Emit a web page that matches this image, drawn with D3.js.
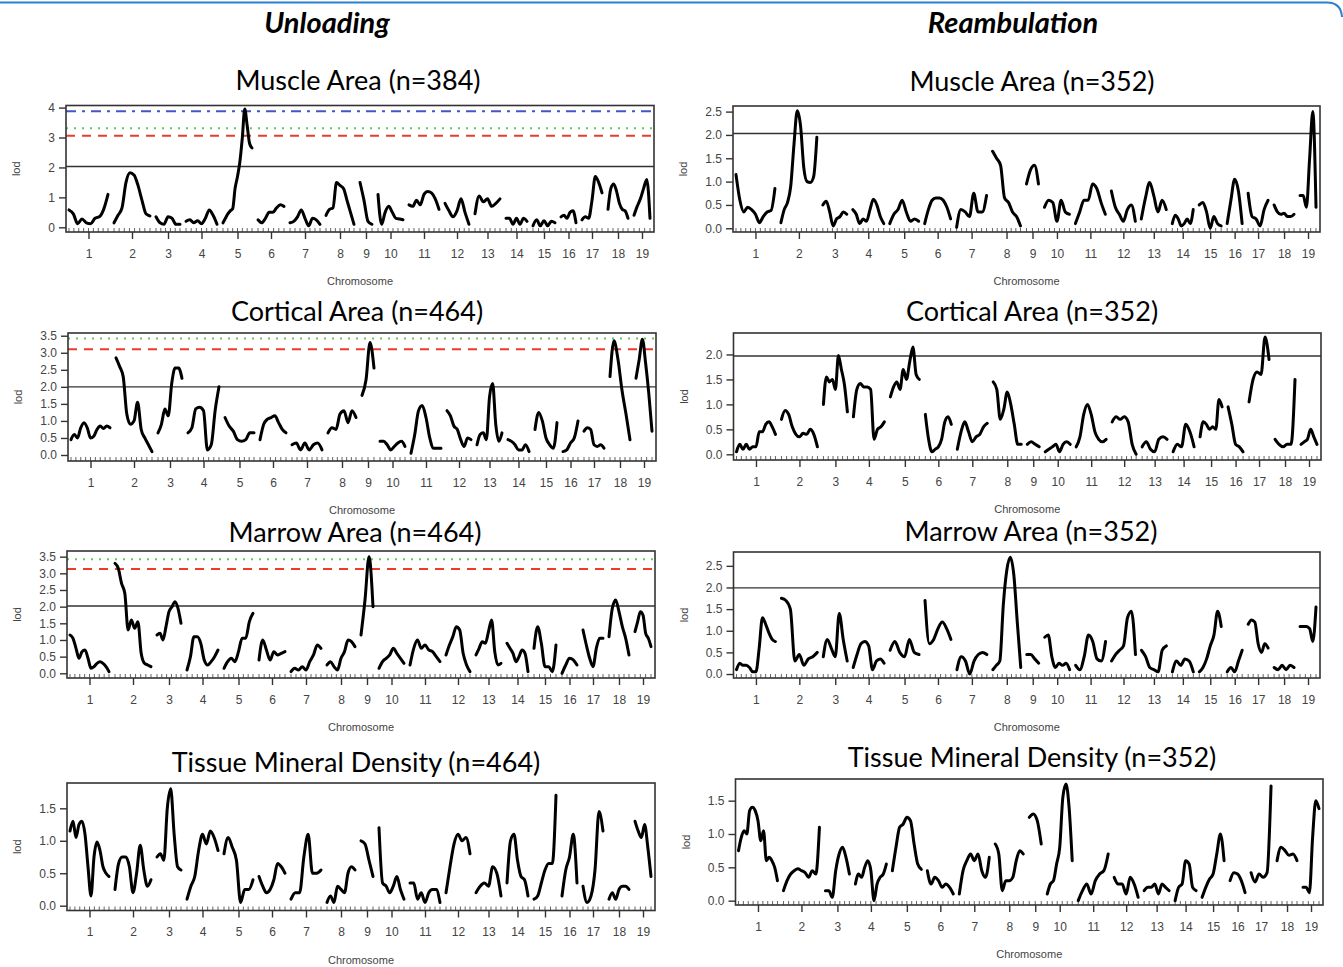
<!DOCTYPE html>
<html>
<head>
<meta charset="utf-8">
<script src="https://cdn.jsdelivr.net/npm/d3@7"></script>
<style>
  body { margin: 0; background: #fff; }
  svg { display: block; }
</style>
</head>
<body>
<script>
// chromosome map: lengths in map units, equal gap between chromosomes
var chromosomes = ["1","2","3","4","5","6","7","8","9","10","11","12","13","14","15","16","17","18","19"];
var chrLen = [39,36,24,31,29,26,30,28,12,25,30,24,25,21,22,15,20,20,16];
var chrGap = 6, mapPad = 3, mapTotal = 588;

// LOD profiles, one list per chromosome (evenly spaced along it)
var unloadMuscleLod = [
  [0.58,0.45,0.12,0.28,0.15,0.12,0.3,0.35,0.6,1.1],
  [0.15,0.4,0.65,1.5,1.82,1.75,1.4,0.9,0.45,0.38],
  [0.35,0.15,0.1,0.35,0.3,0.1,0.1],
  [0.2,0.25,0.15,0.22,0.12,0.3,0.58,0.4,0.1],
  [0.15,0.3,0.45,0.55,0.62,1.3,1.7,2.2,3.0,3.95,3.4,2.8,2.65],
  [0.25,0.15,0.3,0.5,0.5,0.65,0.75,0.7],
  [0.15,0.2,0.35,0.58,0.3,0.05,0.3,0.25,0.1],
  [0.4,0.6,0.65,1.5,1.4,1.3,0.9,0.5,0.1],
  [1.5,0.9,0.2,0.1],
  [1.1,0.1,0.5,0.7,0.5,0.3,0.28,0.25],
  [0.75,0.7,0.9,0.75,1.1,1.2,1.15,0.95,0.6],
  [0.8,0.55,0.35,0.55,0.95,0.5,0.1],
  [0.45,1.05,0.85,0.95,0.7,0.8,0.95],
  [0.3,0.3,0.1,0.3,0.1,0.3,0.2],
  [0.05,0.25,0.05,0.22,0.05,0.2,0.15],
  [0.35,0.4,0.3,0.5,0.55,0.15],
  [0.25,0.35,0.3,0.9,1.7,1.5,1.15],
  [0.6,1.3,1.45,1.2,0.8,0.6,0.55,0.3],
  [0.4,0.7,0.95,1.3,1.6,0.3]
];
var reambMuscleLod = [
  [1.15,0.6,0.35,0.45,0.4,0.3,0.12,0.25,0.35,0.38,0.85],
  [0.12,0.4,0.55,0.9,1.8,2.52,2.2,1.3,1.0,0.98,1.1,1.95],
  [0.5,0.58,0.35,0.05,0.2,0.25,0.35,0.3],
  [0.4,0.3,0.1,0.2,0.15,0.4,0.62,0.5,0.25,0.1],
  [0.1,0.3,0.4,0.6,0.35,0.15,0.2,0.15],
  [0.1,0.4,0.6,0.65,0.65,0.6,0.45,0.2],
  [0.02,0.4,0.35,0.25,0.75,0.35,0.35,0.7],
  [1.65,1.5,1.35,0.65,0.55,0.35,0.25,0.05],
  [0.95,1.25,1.35,0.95],
  [0.45,0.6,0.55,0.15,0.6,0.35,0.3],
  [0.1,0.35,0.6,0.6,0.95,0.85,0.55,0.3],
  [0.8,0.45,0.3,0.15,0.4,0.5,0.15],
  [0.2,0.65,0.98,0.7,0.35,0.6,0.4],
  [0.1,0.28,0.2,0.05,0.1,0.2,0.1,0.4],
  [0.5,0.55,0.35,0.0,0.25,0.1,0.05],
  [0.1,0.6,1.05,0.8,0.1],
  [0.75,0.25,0.2,0.05,0.4,0.6],
  [0.5,0.35,0.3,0.32,0.25,0.25,0.3],
  [0.7,0.7,0.45,1.5,2.5,0.45]
];
var unloadCorticalLod = [
  [0.45,0.6,0.5,0.8,0.95,0.8,0.5,0.55,0.75,0.85,0.78,0.85,0.8],
  [2.85,2.6,2.3,1.2,0.9,1.0,1.55,0.75,0.5,0.3,0.1],
  [0.65,0.9,1.35,1.15,2.1,2.55,2.55,2.25],
  [0.65,0.8,1.35,1.4,1.3,0.15,0.3,1.3,2.0],
  [1.1,0.85,0.7,0.45,0.4,0.45,0.65,0.65],
  [0.45,0.9,1.05,1.1,1.15,0.95,0.75,0.65],
  [0.3,0.35,0.15,0.35,0.15,0.3,0.35,0.15],
  [0.65,0.8,0.75,1.2,1.3,0.95,1.3,1.1],
  [1.75,2.2,3.3,2.55],
  [0.4,0.4,0.3,0.15,0.25,0.35,0.4,0.25],
  [0.05,0.6,1.3,1.45,1.1,0.5,0.2,0.2,0.2],
  [1.3,1.15,0.85,0.75,0.45,0.25,0.5,0.45],
  [0.3,0.6,0.65,0.45,1.7,2.1,0.9,0.4,0.65],
  [0.45,0.4,0.3,0.15,0.15,0.3,0.1],
  [0.75,1.25,1.0,0.5,0.3,0.2,0.95],
  [0.1,0.15,0.35,0.5,1.0],
  [0.7,0.8,0.75,0.3,0.25,0.3,0.2],
  [2.3,3.35,2.8,1.9,1.2,0.45],
  [2.25,2.8,3.4,2.7,1.8,0.7]
];
var reambCorticalLod = [
  [0.05,0.2,0.1,0.2,0.1,0.15,0.15,0.45,0.45,0.6,0.65,0.55,0.4],
  [0.7,0.88,0.8,0.55,0.4,0.35,0.42,0.4,0.5,0.4,0.15],
  [1.0,1.55,1.45,1.5,1.3,1.98,1.7,1.4,0.85],
  [0.75,1.3,1.42,1.35,1.35,1.3,0.3,0.5,0.55,0.65],
  [1.15,1.35,1.45,1.3,1.7,1.5,1.85,2.15,1.6,1.5],
  [0.8,0.3,0.05,0.1,0.15,0.3,0.65,0.75,0.6],
  [0.1,0.45,0.65,0.45,0.25,0.35,0.4,0.55,0.62],
  [1.45,1.3,0.7,0.9,1.25,1.0,0.6,0.2,0.2],
  [0.2,0.25,0.2,0.15],
  [0.05,0.1,0.15,0.2,0.05,0.2,0.25,0.2],
  [0.15,0.35,0.8,1.0,0.8,0.45,0.3,0.25,0.3],
  [0.65,0.75,0.7,0.75,0.65,0.2,0.0],
  [0.15,0.25,0.1,0.05,0.3,0.35,0.3],
  [0.05,0.2,0.15,0.6,0.45,0.15],
  [0.35,0.65,0.6,0.5,0.55,0.5,1.1,0.95],
  [0.95,0.6,0.2,0.15,0.05],
  [1.05,1.5,1.65,1.6,2.35,1.9],
  [0.3,0.2,0.15,0.2,0.2,1.5],
  [0.2,0.25,0.3,0.5,0.35,0.2]
];
var unloadMarrowLod = [
  [1.15,1.05,0.75,0.45,0.65,0.7,0.45,0.15,0.2,0.3,0.35,0.3,0.2,0.05],
  [3.3,3.15,2.7,2.4,1.3,1.6,1.35,1.55,0.6,0.3,0.25,0.2],
  [1.15,1.2,1.0,1.4,1.85,2.0,2.15,1.95,1.5],
  [0.1,0.5,1.1,1.1,0.9,0.4,0.25,0.35,0.5,0.7],
  [0.15,0.35,0.45,0.35,0.65,1.05,1.05,1.55,1.8],
  [0.4,1.0,0.7,0.4,0.65,0.55,0.6,0.65],
  [0.05,0.15,0.1,0.2,0.1,0.35,0.55,0.85,0.75],
  [0.25,0.35,0.2,0.1,0.45,0.65,1.0,0.95,0.8],
  [1.15,2.2,3.5,2.0],
  [0.15,0.35,0.45,0.55,0.75,0.6,0.45,0.3],
  [0.25,0.75,1.0,0.75,0.85,0.7,0.65,0.5,0.35],
  [0.55,0.85,1.1,1.4,1.3,0.6,0.25,0.05],
  [0.55,0.75,0.95,0.9,1.25,1.6,0.65,0.25,0.3],
  [0.9,0.75,0.6,0.35,0.5,0.7,0.6,0.05],
  [0.75,1.4,0.9,0.2,0.2,0.05,0.85],
  [0.0,0.25,0.45,0.4,0.25],
  [1.3,0.85,0.45,0.2,0.75,1.05,1.05],
  [1.1,1.95,2.2,1.85,1.4,1.05,0.55],
  [1.25,1.55,1.85,1.75,1.2,1.05,0.8]
];
var reambMarrowLod = [
  [0.1,0.25,0.2,0.2,0.15,0.05,0.05,0.6,1.3,1.15,0.95,0.8,0.75],
  [1.75,1.7,1.5,0.3,0.45,0.2,0.35,0.4,0.5],
  [0.4,0.8,0.6,0.4,1.4,0.8,0.3],
  [0.15,0.45,0.7,0.75,0.65,0.1,0.3,0.35,0.25],
  [0.55,0.75,0.5,0.4,0.8,0.5,0.45],
  [1.7,0.7,0.8,1.05,1.2,1.05,0.8],
  [0.1,0.4,0.3,0.0,0.3,0.45,0.5,0.45],
  [0.1,0.2,0.3,1.6,2.4,2.7,2.3,1.2,0.15],
  [0.45,0.45,0.35,0.25],
  [0.85,0.9,0.4,0.15,0.25,0.2,0.25,0.1],
  [0.2,0.1,0.4,0.9,0.75,0.35,0.3,0.75],
  [0.3,0.45,0.55,0.65,1.3,1.45,0.45],
  [0.55,0.4,0.15,0.1,0.05,0.55,0.65],
  [0.05,0.3,0.2,0.35,0.3,0.05],
  [0.05,0.15,0.35,0.65,0.9,1.45,1.1],
  [0.05,0.15,0.05,0.3,0.55],
  [1.15,1.25,1.2,0.7,0.5,0.7,0.6],
  [0.15,0.1,0.2,0.1,0.2,0.15],
  [1.1,1.1,1.1,1.05,0.75,1.55]
];
var unloadTmdLod = [
  [1.15,1.3,1.05,1.25,1.3,1.1,0.6,0.15,0.75,0.98,0.85,0.6,0.5,0.45],
  [0.25,0.65,0.75,0.75,0.6,0.2,0.5,0.93,0.55,0.3,0.4],
  [0.75,0.8,0.7,1.5,1.8,1.1,0.6,0.55],
  [0.1,0.3,0.45,0.85,1.1,0.95,1.15,1.05,0.85],
  [0.8,1.05,0.9,0.7,0.05,0.25,0.25,0.4],
  [0.45,0.3,0.2,0.25,0.4,0.65,0.6,0.5],
  [0.1,0.2,0.2,0.75,1.1,0.5,0.5,0.55],
  [0.05,0.15,0.05,0.3,0.25,0.2,0.5,0.6,0.55],
  [1.0,0.95,0.7,0.45],
  [1.2,0.35,0.3,0.2,0.3,0.45,0.25,0.1],
  [0.35,0.35,0.1,0.2,0.05,0.2,0.25,0.25,0.05],
  [0.2,0.6,0.95,1.1,1.0,1.05,0.8],
  [0.2,0.3,0.35,0.3,0.6,0.5,0.15],
  [0.35,1.0,1.1,0.7,0.45,0.4,0.15],
  [0.1,0.15,0.35,0.55,0.65,0.65,1.7],
  [0.15,0.55,0.75,1.1,0.35],
  [0.3,0.05,0.15,0.55,1.45,1.15],
  [0.1,0.2,0.1,0.25,0.3,0.3,0.25],
  [1.3,1.15,1.05,1.25,0.9,0.45]
];
var reambTmdLod = [
  [0.75,0.95,1.05,1.0,1.35,1.4,1.35,1.2,0.9,1.05,0.6,0.65,0.6,0.5,0.3],
  [0.15,0.3,0.4,0.45,0.48,0.45,0.42,0.35,0.45,0.4,1.1],
  [0.15,0.15,0.05,0.45,0.7,0.8,0.65,0.4],
  [0.25,0.4,0.35,0.5,0.6,0.45,0.0,0.25,0.35,0.4,0.55],
  [0.45,0.8,1.1,1.15,1.25,1.2,0.85,0.55,0.47],
  [0.45,0.25,0.35,0.3,0.2,0.25,0.2,0.1],
  [0.1,0.45,0.6,0.7,0.6,0.7,0.45,0.35,0.65],
  [0.85,0.7,0.15,0.3,0.3,0.35,0.6,0.75,0.7],
  [1.25,1.3,1.2,0.85],
  [0.1,0.25,0.3,0.55,0.8,1.55,1.75,1.4,0.6],
  [0.0,0.15,0.25,0.1,0.3,0.4,0.45,0.7],
  [0.35,0.25,0.25,0.1,0.35,0.25,0.05],
  [0.15,0.2,0.2,0.25,0.1,0.25,0.2,0.15],
  [0.0,0.2,0.25,0.6,0.55,0.2,0.15],
  [0.05,0.2,0.32,0.4,0.7,1.0,0.6],
  [0.3,0.42,0.4,0.3,0.12],
  [0.42,0.28,0.4,0.35,0.42,1.72],
  [0.6,0.8,0.75,0.68,0.7,0.6],
  [0.2,0.2,0.12,0.95,1.5,1.38]
];

// significance thresholds, in drawing order (solid, dashed, dotted, dash-dot)
var unloadMuscleThr = [2.03, 3.06, 3.31, 3.88];
var reambMuscleThr = [2.03];
var unloadCorticalThr = [2.0, 3.1, 3.42];
var reambCorticalThr = [1.97];
var unloadMarrowThr = [2.02, 3.13, 3.42];
var reambMarrowThr = [1.99];

var unloadMuscleTicks = [0, 1, 2, 3, 4];
var reambMuscleTicks = [0, 0.5, 1, 1.5, 2, 2.5];
var unloadCorticalTicks = [0, 0.5, 1, 1.5, 2, 2.5, 3, 3.5];
var reambCorticalTicks = [0, 0.5, 1, 1.5, 2];
var unloadMarrowTicks = [0, 0.5, 1, 1.5, 2, 2.5, 3, 3.5];
var reambMarrowTicks = [0, 0.5, 1, 1.5, 2, 2.5];
var tmdTicks = [0, 0.5, 1, 1.5];

var width = 1343, height = 967;

var svg = d3.select("body").append("svg")
    .attr("width", width)
    .attr("height", height);

// rounded frame edge at the top
svg.append("path")
   .attr("d", "M0,2.5 L1327,2.5 Q1341,2.5 1342,17")
   .attr("fill", "none")
   .attr("stroke", "#2b7fcf")
   .attr("stroke-width", 2);

// column headers
svg.append("text")
   .attr("x", 327).attr("y", 33)
   .attr("text-anchor", "middle")
   .style("font-family", "Lato, sans-serif")
   .style("font-weight", "bold").style("font-style", "italic")
   .style("font-size", "29px")
   .text("Unloading");
svg.append("text")
   .attr("x", 1013).attr("y", 33)
   .attr("text-anchor", "middle")
   .style("font-family", "Lato, sans-serif")
   .style("font-weight", "bold").style("font-style", "italic")
   .style("font-size", "29px")
   .text("Reambulation");

// chromosome extents along the map
var chrStart = [], chrMid = [];
var pos = mapPad;
chrLen.forEach(function(l) {
    chrStart.push(pos);
    chrMid.push(pos + l / 2);
    pos += l + chrGap;
});

var panels = [
  {title: "Muscle Area (n=384)", lod: unloadMuscleLod, thr: unloadMuscleThr, ticks: unloadMuscleTicks, fmt: "d",
   left: 66, right: 654, top: 105.5, bottom: 232, yDomain: [-0.157, 4.07], titleX: 358, titleY: 90},
  {title: "Muscle Area (n=352)", lod: reambMuscleLod, thr: reambMuscleThr, ticks: reambMuscleTicks, fmt: ".1f",
   left: 733, right: 1320, top: 106, bottom: 232, yDomain: [-0.08, 2.62], titleX: 1032, titleY: 91},
  {title: "Cortical Area (n=464)", lod: unloadCorticalLod, thr: unloadCorticalThr, ticks: unloadCorticalTicks, fmt: ".1f",
   left: 68, right: 656, top: 333, bottom: 461, yDomain: [-0.176, 3.58], titleX: 357, titleY: 321},
  {title: "Cortical Area (n=352)", lod: reambCorticalLod, thr: reambCorticalThr, ticks: reambCorticalTicks, fmt: ".1f",
   left: 733.5, right: 1321, top: 333, bottom: 460, yDomain: [-0.114, 2.43], titleX: 1032, titleY: 321},
  {title: "Marrow Area (n=464)", lod: unloadMarrowLod, thr: unloadMarrowThr, ticks: unloadMarrowTicks, fmt: ".1f",
   left: 67, right: 655, top: 551, bottom: 678, yDomain: [-0.141, 3.67], titleX: 355, titleY: 542},
  {title: "Marrow Area (n=352)", lod: reambMarrowLod, thr: reambMarrowThr, ticks: reambMarrowTicks, fmt: ".1f",
   left: 733.5, right: 1320, top: 552, bottom: 678, yDomain: [-0.092, 2.82], titleX: 1031, titleY: 541},
  {title: "Tissue Mineral Density (n=464)", lod: unloadTmdLod, thr: [], ticks: tmdTicks, fmt: ".1f",
   left: 67, right: 655, top: 783, bottom: 910.5, yDomain: [-0.074, 1.89], titleX: 356, titleY: 772},
  {title: "Tissue Mineral Density (n=352)", lod: reambTmdLod, thr: [], ticks: tmdTicks, fmt: ".1f",
   left: 735.5, right: 1323, top: 779, bottom: 905, yDomain: [-0.065, 1.825], titleX: 1032, titleY: 767}
];

var thrStyle = [
  {stroke: "#333", width: 1.4, dash: null},
  {stroke: "#ec3b2c", width: 2, dash: "9,7"},
  {stroke: "#66c65a", width: 2, dash: "2,6"},
  {stroke: "#4655c6", width: 2, dash: "10,6,3,6"}
];

panels.forEach(function(p) {
    var g = svg.append("g");

    var x = d3.scaleLinear().domain([0, mapTotal]).range([p.left, p.right]);
    var y = d3.scaleLinear().domain(p.yDomain).range([p.bottom, p.top]);

    g.append("text")
     .attr("x", p.titleX).attr("y", p.titleY)
     .attr("text-anchor", "middle")
     .style("font-family", "Lato, sans-serif")
     .style("font-size", "27px")
     .style("fill", "#000")
     .text(p.title);

    p.thr.forEach(function(v, i) {
        var s = thrStyle[i];
        g.append("line")
         .attr("x1", p.left).attr("x2", p.right)
         .attr("y1", y(v)).attr("y2", y(v))
         .attr("stroke", s.stroke)
         .attr("stroke-width", s.width)
         .attr("stroke-dasharray", s.dash);
    });

    // marker rug along the bottom
    chrLen.forEach(function(l, c) {
        var n = Math.round(l / 5) + 1;
        d3.range(n).forEach(function(k) {
            var xm = x(chrStart[c] + k * l / (n - 1));
            g.append("line")
             .attr("x1", xm).attr("x2", xm)
             .attr("y1", p.bottom - 4).attr("y2", p.bottom)
             .attr("stroke", "#666").attr("stroke-width", 1);
        });
    });

    var line = d3.line()
        .x(function(d) { return x(d[0]); })
        .y(function(d) { return y(d[1]); })
        .curve(d3.curveMonotoneX);

    p.lod.forEach(function(vals, c) {
        var pts = vals.map(function(v, i) {
            return [chrStart[c] + i * chrLen[c] / (vals.length - 1), v];
        });
        g.append("path")
         .attr("d", line(pts))
         .attr("fill", "none")
         .attr("stroke", "#000")
         .attr("stroke-width", 3)
         .attr("stroke-linejoin", "round")
         .attr("stroke-linecap", "round");
    });

    g.append("rect")
     .attr("x", p.left).attr("y", p.top)
     .attr("width", p.right - p.left).attr("height", p.bottom - p.top)
     .attr("fill", "none")
     .attr("stroke", "#333")
     .attr("stroke-width", 1.6);

    var yAxis = g.append("g")
       .attr("transform", "translate(" + p.left + ",0)")
       .call(d3.axisLeft(y).tickValues(p.ticks).tickFormat(d3.format(p.fmt)).tickSize(7).tickPadding(4));
    yAxis.select(".domain").remove();

    var xAxis = g.append("g")
       .attr("transform", "translate(0," + p.bottom + ")")
       .call(d3.axisBottom(x).tickValues(chrMid)
             .tickFormat(function(d, i) { return chromosomes[i]; })
             .tickSize(7).tickPadding(10));
    xAxis.select(".domain").remove();

    g.selectAll(".tick line").attr("stroke", "#333").attr("stroke-width", 1.4);
    g.selectAll(".tick text")
     .style("font-family", "'Liberation Sans', Arial, sans-serif")
     .style("font-size", "12px")
     .style("fill", "#444");

    g.append("text")
     .attr("x", (p.left + p.right) / 2).attr("y", p.bottom + 53)
     .attr("text-anchor", "middle")
     .style("font-family", "'Liberation Sans', Arial, sans-serif")
     .style("font-size", "11px")
     .style("fill", "#444")
     .text("Chromosome");

    g.append("text")
     .attr("transform", "translate(" + (p.left - 46) + "," + ((p.top + p.bottom) / 2) + ") rotate(-90)")
     .attr("text-anchor", "middle")
     .style("font-family", "'Liberation Sans', Arial, sans-serif")
     .style("font-size", "11px")
     .style("fill", "#444")
     .text("lod");
});
</script>
</body>
</html>
